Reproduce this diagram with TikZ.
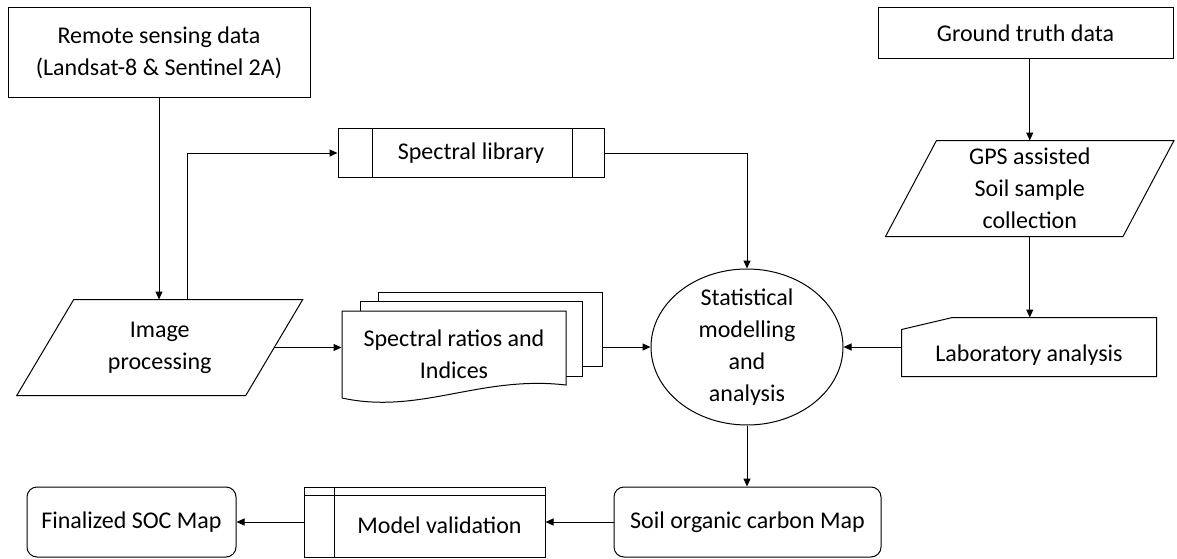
\documentclass[tikz,border=0pt]{standalone}
\usepackage{fontspec}
\setmainfont{Carlito}
\usetikzlibrary{arrows.meta,shapes.geometric}
\tikzset{
	txt/.style={align=center,inner sep=0pt,font=\fontsize{24}{32}\selectfont},
	plainbox/.style={txt,draw},
	rbox/.style={plainbox,rounded corners=10pt},
	libbox/.style={plainbox,path picture={\draw ([xshift=34pt]path picture bounding box.north west)--([xshift=34pt]path picture bounding box.south west) ([xshift=-32pt]path picture bounding box.north east)--([xshift=-32pt]path picture bounding box.south east);}},
	valbox/.style={plainbox,path picture={\draw ([yshift=-8pt]path picture bounding box.north west)--([yshift=-8pt]path picture bounding box.north east) ([xshift=30pt]path picture bounding box.north west)--([xshift=30pt]path picture bounding box.south west);}},
	arr/.style={-{Triangle[length=8pt,width=7pt]}}
}
\begin{document}
\begin{tikzpicture}[x=1pt,y=-1pt,line width=1pt]
	\useasboundingbox (0,0) rectangle (1177,559);
	\node[plainbox,minimum width=302pt,minimum height=90pt] (rs) at (159,53) {Remote sensing data\\(Landsat-8 \& Sentinel 2A)};
	\node[plainbox,minimum width=295pt,minimum height=51pt] (gt) at (1025.5,33.5) {Ground truth data};
	\node[libbox,minimum width=266pt,minimum height=48pt] (slib) at (471,153) {Spectral library};
	\node[txt,minimum width=228pt,minimum height=95pt] (img) at (159.75,347.5) {Image\\processing};
	\node[txt,minimum width=236.5pt,minimum height=95pt] (gps) at (1029.75,188.5) {GPS assisted\\Soil sample\\collection};
	\foreach \n/\s in {img/28.5,gps/25.5}
		\draw ([xshift=\s]\n.north west)--([xshift=\s]\n.north east)--([xshift=-\s]\n.south east)--([xshift=-\s]\n.south west)--cycle;
	\node[plainbox,fill=white,minimum width=224pt,minimum height=74pt] (doc3) at (490,329) {};
	\node[plainbox,fill=white,minimum width=222pt,minimum height=75pt] (doc2) at (471,338.5) {};
	\draw[fill=white] (342,398)--(342,311)--(566,311)--(566,385) .. controls (480,375) and (420,415) .. (342,398)--cycle;
	\node[txt,minimum width=224pt,minimum height=87pt] (docs) at (454,354.5) {Spectral ratios and\\Indices};
	\node[draw,ellipse,minimum width=192pt,minimum height=156pt] (ell) at (747,347) {};
	\node[txt] (elltxt) at (ell) {Statistical\\modelling\\and\\analysis};
	\node[txt,minimum width=254pt,minimum height=58pt,text height=32pt,text depth=2.8pt] (lab) at (1029,347) {Laboratory analysis};
	\draw (lab.south west)--([yshift=-12pt]lab.north west)--([xshift=51pt]lab.north west)--(lab.north east)--(lab.south east)--cycle;
	\node[rbox,minimum width=267pt,minimum height=70pt] (soc) at (747.5,522) {Soil organic carbon Map};
	\node[valbox,minimum width=241pt,minimum height=70pt,text height=26pt,text depth=2.8pt] (val) at (424.5,522) {\hspace*{30pt}Model validation};
	\node[rbox,minimum width=209pt,minimum height=70pt] (fin) at (131.5,522) {Finalized SOC Map};
	\draw[arr] (rs.south)--(rs.south|-img.north);
	\draw[arr] ([xshift=28pt]img.north)|-(slib.west);
	\draw[arr] (slib.east)-|(ell.north);
	\draw[arr] (img.east)--(img.east-|docs.west);
	\draw[arr] (ell.west-|doc3.east)--(ell.west);
	\draw[arr] (gps.north|-gt.south)--(gps.north);
	\draw[arr] (gps.south)--(gps.south|-lab.north);
	\draw[arr] (lab.west)--(ell.east);
	\draw[arr] (ell.south)--(ell.south|-soc.north);
	\draw[arr] (soc.west)--(soc.west-|val.east);
	\draw[arr] (val.west)--(fin.east);
\end{tikzpicture}
\end{document}
